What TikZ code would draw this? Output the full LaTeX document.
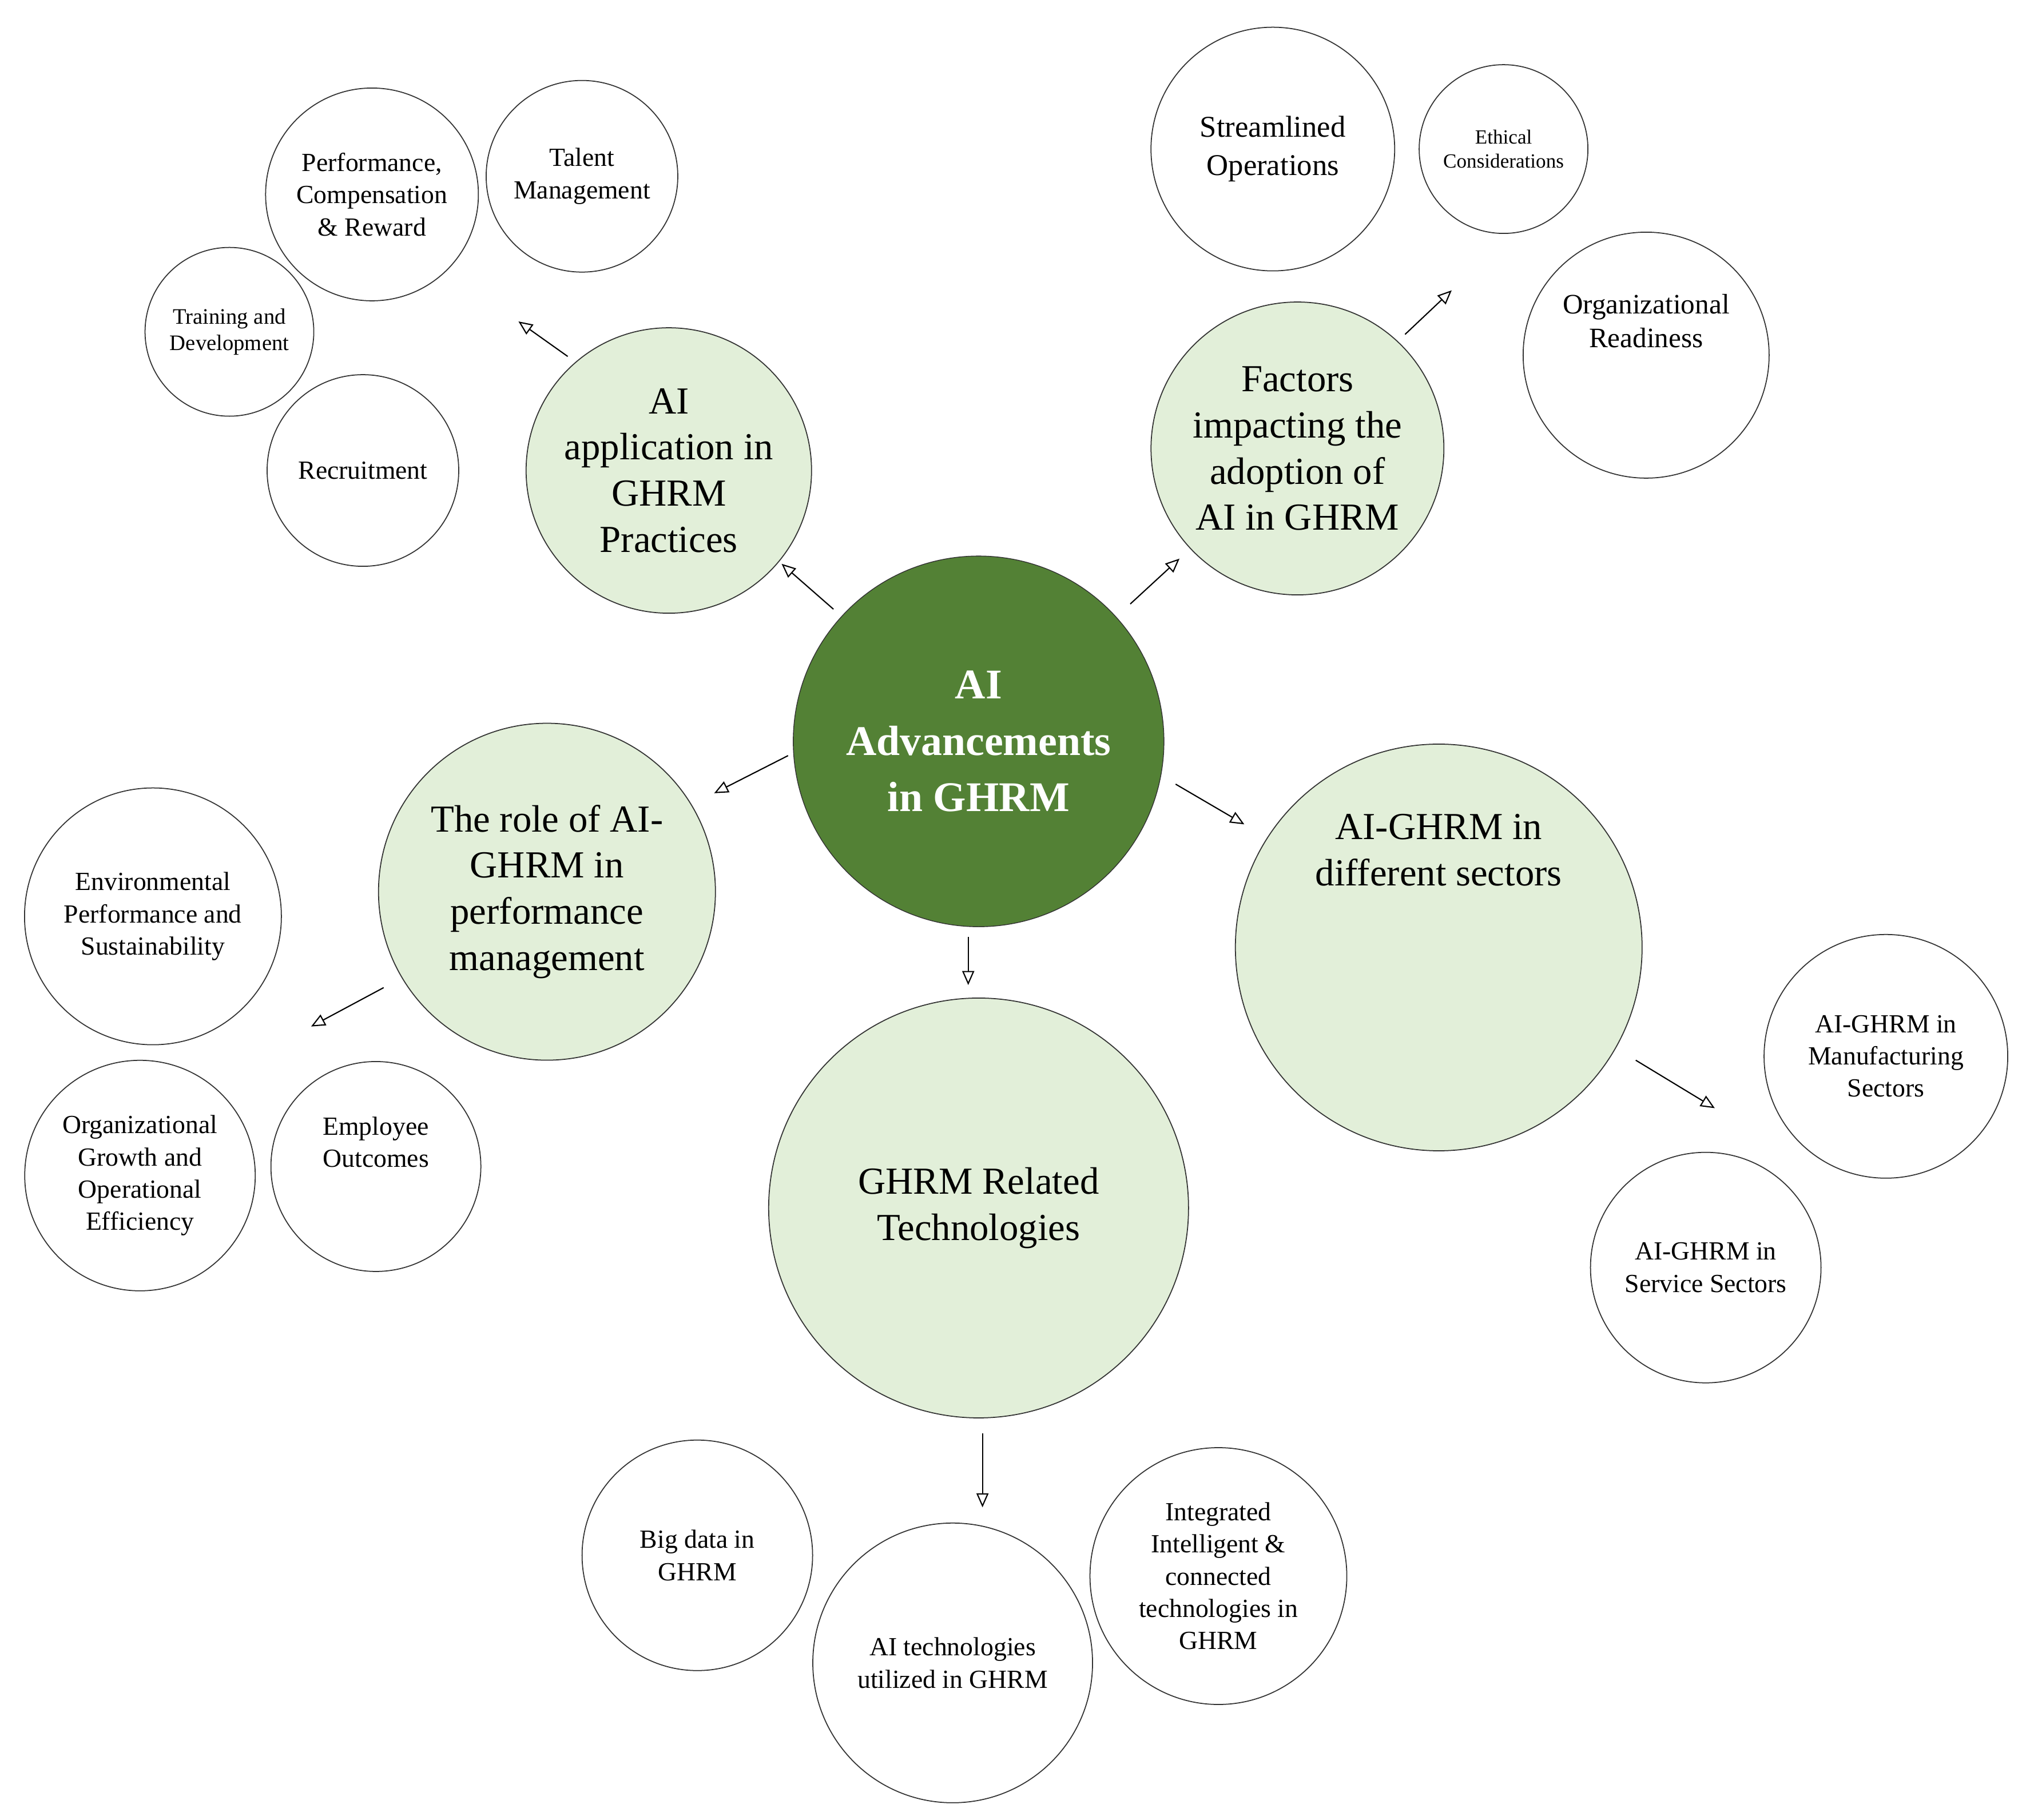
\documentclass[tikz,border=0pt]{standalone}
\usepackage{fontspec}
\setmainfont{Liberation Serif}
\usetikzlibrary{arrows.meta}
\definecolor{dkg}{HTML}{538135}
\definecolor{ltg}{HTML}{E2EFD9}
\begin{document}
\begin{tikzpicture}[x=0.02266cm,y=-0.02266cm,
 big/.style={circle,draw=black!80,line width=0.5pt,fill=ltg,align=center,font=\fontsize{19}{23}\selectfont,inner sep=0pt},
 sm/.style={circle,draw=black!80,line width=0.5pt,fill=white,align=center,font=\fontsize{13}{16}\selectfont,inner sep=0pt},
 ar/.style={-{Triangle[open,length=7pt,width=6pt]},line width=0.6pt}]
\useasboundingbox (0,0) rectangle (1560,1404);
\node[circle,draw=black!80,fill=dkg,text=white,font=\bfseries\fontsize{21}{28}\selectfont,align=center,minimum size=286\pgflinewidth*0+6.48cm] (c) at (755,572) {AI\\Advancements\\in GHRM};
\node[big,minimum size=4.99cm] (a) at (516,363) {AI\\application in\\GHRM\\Practices};
\node[big,minimum size=5.12cm] (f) at (1001,346) {Factors\\impacting the\\adoption of\\AI in GHRM};
\node[big,minimum size=5.89cm] (r) at (422,688) {The role of AI-\\GHRM in\\performance\\management};
\node[big,minimum size=7.11cm] (s) at (1110,731) {AI-GHRM in\\different sectors\\[2.6cm]};
\node[big,minimum size=7.34cm] (g) at (755,932) {GHRM Related\\Technologies};
\node[sm,minimum size=3.72cm] (p1) at (287,150) {Performance,\\Compensation\\\& Reward};
\node[sm,minimum size=3.35cm] (p2) at (449,136) {Talent\\Management};
\node[sm,minimum size=2.95cm,font=\fontsize{11}{13}\selectfont] (p3) at (177,256) {Training and\\Development};
\node[sm,minimum size=3.35cm] (p4) at (280,363) {Recruitment};
\node[sm,minimum size=4.26cm,font=\fontsize{15}{19}\selectfont] (q1) at (982,115) {Streamlined\\Operations};
\node[sm,minimum size=2.95cm,font=\fontsize{10}{12}\selectfont] (q2) at (1160,115) {Ethical\\Considerations};
\node[sm,minimum size=4.3cm,font=\fontsize{14}{17}\selectfont] (q3) at (1270,274) {Organizational\\Readiness\\[0.6cm]};
\node[sm,minimum size=4.49cm] (r1) at (118,707) {Environmental\\Performance and\\Sustainability};
\node[sm,minimum size=4.03cm] (r2) at (108,907) {Organizational\\Growth and\\Operational\\Efficiency};
\node[sm,minimum size=3.67cm] (r3) at (290,900) {Employee\\Outcomes\\[0.3cm]};
\node[sm,minimum size=4.26cm] (s1) at (1455,815) {AI-GHRM in\\Manufacturing\\Sectors};
\node[sm,minimum size=4.03cm] (s2) at (1316,978) {AI-GHRM in\\Service Sectors};
\node[sm,minimum size=4.03cm] (g1) at (538,1200) {Big data in\\GHRM};
\node[sm,minimum size=4.89cm] (g2) at (735,1283) {AI technologies\\utilized in GHRM};
\node[sm,minimum size=4.49cm] (g3) at (940,1216) {Integrated\\Intelligent \&\\connected\\technologies in\\GHRM};
\coordinate (e1a) at (643,470); \coordinate (e1b) at (603,435);
\coordinate (e2a) at (438,275); \coordinate (e2b) at (400,248);
\coordinate (e3a) at (872,466); \coordinate (e3b) at (910,431);
\coordinate (e4a) at (1084,258); \coordinate (e4b) at (1120,224);
\coordinate (e5a) at (608,583); \coordinate (e5b) at (551,612);
\coordinate (e6a) at (296,762); \coordinate (e6b) at (240,792);
\coordinate (e7a) at (907,605); \coordinate (e7b) at (960,636);
\coordinate (e8a) at (1262,818); \coordinate (e8b) at (1323,855);
\coordinate (e9a) at (747,723); \coordinate (e9b) at (747,760);
\coordinate (e10a) at (758,1106); \coordinate (e10b) at (758,1163);
\foreach \i in {1,...,10} \draw[ar] (e\i a) -- (e\i b);
\end{tikzpicture}
\end{document}
